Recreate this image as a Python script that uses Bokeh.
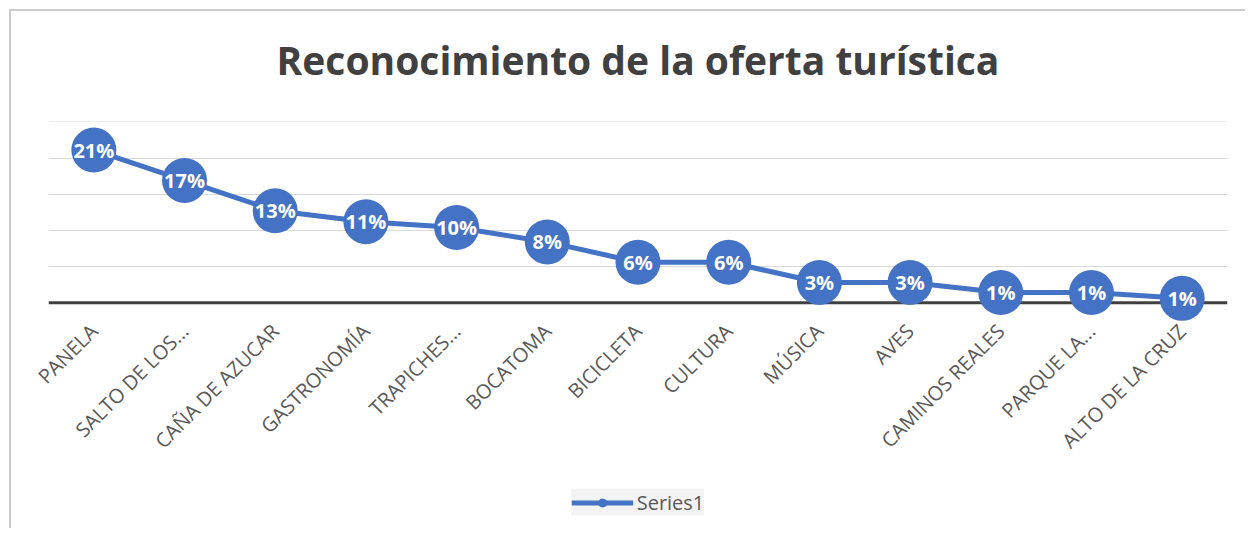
import math
from bokeh.plotting import figure
from bokeh.layouts import column
from bokeh.models import (FactorRange, Range1d, FixedTicker, Span, Legend,
                          LegendItem, ColumnDataSource, Label)
from bokeh.core.properties import value
from bokeh.embed import file_html
from bokeh.resources import INLINE

categories = ["PANELA", "SALTO DE LOS...", "CAÑA DE AZUCAR", "GASTRONOMÍA",
              "TRAPICHES...", "BOCATOMA", "BICICLETA", "CULTURA", "MÚSICA",
              "AVES", "CAMINOS REALES", "PARQUE LA...", "ALTO DE LA CRUZ"]
values = [0.211, 0.169, 0.127, 0.112, 0.104, 0.084, 0.056, 0.056,
          0.028, 0.028, 0.014, 0.014, 0.006]
grid_ticks = [0.05, 0.10, 0.15, 0.20, 0.25]
series_name = "Series1"
title_text = "Reconocimiento de la oferta turística"

labels = [f"{max(1, round(v * 100))}%" for v in values]

BLUE = "#4472C4"
FONT = "Open Sans"
W = 1234
BL, BR = 37, 18


def blank(height):
    f = figure(width=W, height=height, output_backend="svg",
               toolbar_location=None, x_range=Range1d(0, 1),
               y_range=Range1d(0, height), min_border_left=BL,
               min_border_right=BR, min_border_top=0, min_border_bottom=0,
               x_axis_location=None, y_axis_location=None)
    f.outline_line_color = None
    f.grid.visible = False
    return f


# title panel
p0 = blank(110)
p0.add_layout(Label(x=0.5, y=62, text=title_text, text_align="center",
                    text_baseline="alphabetic", text_font=FONT,
                    text_font_style="bold", text_font_size="39px",
                    text_color="#404040"))

# chart
src = ColumnDataSource(dict(cat=categories, val=values, lab=labels))
p = figure(x_range=FactorRange(*categories), y_range=Range1d(-0.026, 0.2505),
           width=W, height=355, output_backend="svg", toolbar_location=None,
           min_border_left=BL, min_border_right=BR, min_border_top=0,
           min_border_bottom=155)
p.outline_line_color = None
p.xgrid.grid_line_color = None
p.yaxis.ticker = FixedTicker(ticks=grid_ticks)
p.ygrid.ticker = FixedTicker(ticks=grid_ticks)
p.ygrid.grid_line_color = "#d9d9d9"
p.ygrid.grid_line_width = 1
p.yaxis.visible = False

base = Span(location=0, dimension="width", line_color="#404040", line_width=3,
            level="underlay")
p.add_layout(base)

p.line(x="cat", y="val", source=src, line_color=BLUE, line_width=5)
p.scatter(x="cat", y="val", source=src, size=45, fill_color=BLUE,
          line_color=BLUE, line_width=0)
p.text(x="cat", y="val", text="lab", source=src, text_color="white",
       text_font=value(FONT), text_font_style="bold", text_font_size="20px",
       text_align="center", text_baseline="middle")

ax = p.xaxis[0]
ax.major_label_orientation = math.pi / 4
ax.major_tick_line_color = None
ax.minor_tick_line_color = None
ax.axis_line_color = None
ax.major_label_text_font = FONT
ax.major_label_text_font_size = "20px"
ax.major_label_text_color = "#595959"
ax.major_label_standoff = 0

# legend panel
p2 = blank(52)
legend_src = ColumnDataSource(dict(x=[float("nan")], y=[float("nan")]))
l1 = p2.line(x="x", y="y", source=legend_src, line_color=BLUE, line_width=5)
s1 = p2.scatter(x="x", y="y", source=legend_src, size=11, fill_color=BLUE,
                line_color=BLUE)
legend = Legend(items=[LegendItem(label=series_name, renderers=[l1, s1])],
                location="center", orientation="horizontal",
                background_fill_color="#f2f2f2", border_line_color=None,
                label_text_font=FONT, label_text_font_size="20px",
                label_text_color="#595959", glyph_width=62, glyph_height=20,
                label_standoff=4, padding=12, margin=0)
p2.add_layout(legend, "center")

col = column(p0, p, p2, spacing=0)
col.margin = (9, 0, 0, 9)
col.styles = {"border-top": "2px solid #cccccc", "border-left": "2px solid #cccccc"}

open("out.html", "w").write(file_html(col, INLINE))
